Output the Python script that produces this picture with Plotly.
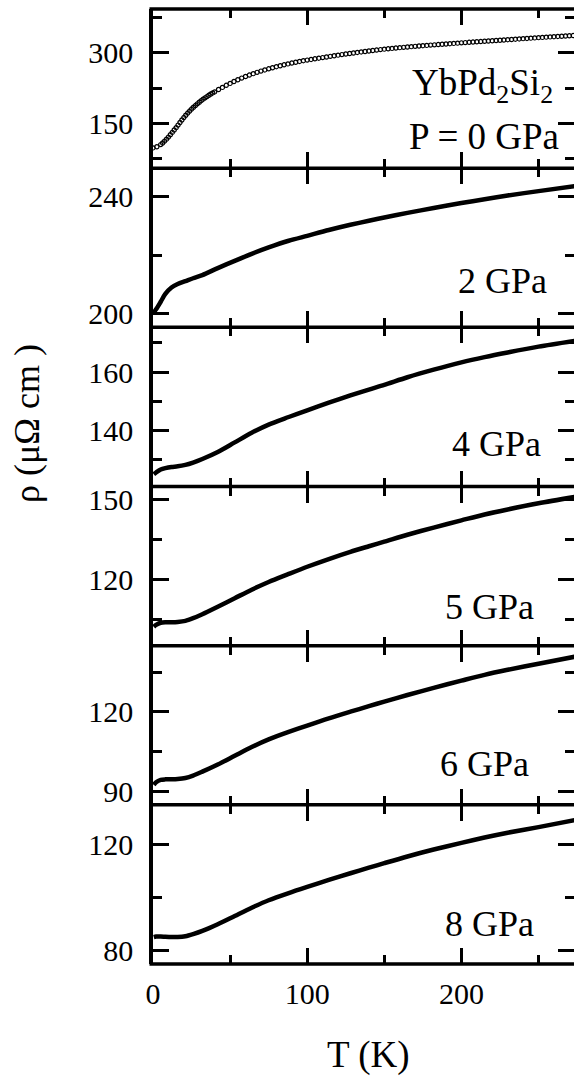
import plotly.graph_objects as go
from plotly.subplots import make_subplots

# ---------------- data ----------------
# P = 0 GPa (open circles)
T0 = [0, 2.5, 5, 6.25, 7.5, 8.75, 10, 11.25, 12.5, 13.75, 15, 16.25, 17.5, 18.75, 20,
      21.25, 22.5, 23.75, 25, 26.25, 27.5, 28.75, 30, 31.25, 32.5, 33.75, 35, 36.25,
      37.5, 38.75, 40, 42.5, 45, 47.5, 50, 52.5, 55, 57.5, 60, 62.5, 65, 67.5, 70,
      72.5, 75, 77.5, 80, 82.5, 85, 87.5, 90, 92.5, 95, 97.5, 100, 102.5, 105, 107.5,
      110, 112.5, 115, 117.5, 120, 122.5, 125, 127.5, 130, 132.5, 135, 137.5, 140,
      142.5, 145, 147.5, 150, 152.5, 155, 157.5, 160, 162.5, 165, 167.5, 170,
      172.5, 175, 177.5, 180, 182.5, 185, 187.5, 190, 192.5, 195, 197.5, 200,
      202.5, 205, 207.5, 210, 212.5, 215, 217.5, 220, 222.5, 225, 227.5, 230,
      232.5, 235, 237.5, 240, 242.5, 245, 247.5, 250, 252.5, 255, 257.5, 260,
      262.5, 265, 267.5, 270, 272.5, 275]
rho_0GPa = [98, 100.5, 105, 108.5, 112.5, 116.5, 121, 126, 131, 136, 141, 146.5, 152,
            157.3, 162.5, 167.3, 172, 176.3, 180.5, 184.3, 188, 191.6, 195, 198.3,
            201.5, 204.3, 207, 209.8, 212.5, 214.8, 217, 222, 226.5, 231, 235, 239,
            242.8, 246.3, 249.6, 252.7, 255.7, 258.5, 261.1, 263.6, 266, 268.3, 270.5,
            272.5, 274.5, 276.4, 278.2, 279.9, 281.6, 283.2, 284.5, 285.9, 287.2,
            288.5, 289.8, 291.1, 292.4, 293.7, 295, 296.2, 297.4, 298.5, 299.6, 300.7,
            301.8, 302.8, 303.8, 304.8, 305.8, 306.8, 307.7, 308.5, 309.3, 310.1,
            310.9, 311.6, 312.3, 313, 313.7, 314.4, 315.1, 315.7, 316.3, 316.9, 317.5,
            318.1, 318.7, 319.3, 319.9, 320.5, 321.1, 321.7, 322.3, 322.8, 323.4,
            323.9, 324.5, 325, 325.6, 326.1, 326.7, 327.2, 327.8, 328.3, 328.9,
            329.4, 330, 330.5, 331.1, 331.6, 332.2, 332.7, 333.2, 333.7, 334.2,
            334.7, 335.2, 335.7, 336.2, 336.6, 337]

# P = 2 ... 8 GPa (solid curves)
T = [0.5, 2, 5, 8, 12, 16, 21, 26, 32, 42, 53, 64, 75, 88, 100, 114, 128, 140, 150,
     165, 182, 200, 215, 230, 250, 275]
rho_2GPa = [200.2, 201.3, 203.9, 206.6, 208.8, 210, 211, 212, 213.1, 215.5, 218.0,
            220.4, 222.6, 224.9, 226.6, 228.6, 230.4, 231.8, 232.9, 234.5, 236.2,
            237.9, 239.2, 240.5, 242.0, 243.8]
rho_4GPa = [125, 125.6, 126.6, 127.1, 127.5, 127.7, 128.2, 129, 130.2, 132.6, 135.9,
            139.2, 142, 144.6, 146.9, 149.5, 152, 154, 155.6, 158.2, 160.8, 163.3,
            165.1, 166.7, 168.7, 170.8]
rho_5GPa = [102.3, 103, 103.8, 104, 104, 104.1, 104.5, 105.5, 107, 109.8, 113, 116.2,
            119.1, 122.1, 124.8, 127.7, 130.4, 132.5, 134.2, 136.8, 139.5, 142.2,
            144.4, 146.3, 148.6, 151.1]
rho_6GPa = [92.5, 93.5, 94.4, 94.6, 94.6, 94.7, 95.1, 96, 97.5, 100.2, 103.5, 106.8,
            109.7, 112.5, 114.9, 117.6, 120.1, 122.2, 123.9, 126.4, 129.1, 131.8,
            134, 135.9, 138.2, 141]
rho_8GPa = [85.2, 85.4, 85.4, 85.3, 85.2, 85.2, 85.5, 86.3, 87.5, 90, 93.1, 96.2,
            99, 101.7, 104, 106.6, 109.1, 111.2, 112.9, 115.4, 118, 120.5, 122.5,
            124.3, 126.4, 129.2]

pressure_labels = ["2 GPa", "4 GPa", "5 GPa", "6 GPa", "8 GPa"]
curves = [rho_2GPa, rho_4GPa, rho_5GPa, rho_6GPa, rho_8GPa]

# ---------------- figure ----------------
W, H = 574, 1077
ML, MR, MT, MB = 153, 0, 9, 113
PW, PH = W - ML - MR, H - MT - MB
LW = 3.5

FONT = "Liberation Serif, 'Times New Roman', Times, serif"

fig = make_subplots(rows=6, cols=1, shared_xaxes=True, vertical_spacing=0)

fig.add_trace(go.Scatter(x=T0, y=rho_0GPa, mode="markers",
                         marker=dict(symbol="circle-open", size=4.2, color="#000000",
                                     line=dict(width=1.2, color="#000000")),
                         showlegend=False), row=1, col=1)

for i, rho in enumerate(curves):
    fig.add_trace(go.Scatter(x=T, y=rho, mode="lines",
                             line=dict(color="black", width=4.5, shape="spline", smoothing=0.8),
                             showlegend=False), row=i + 2, col=1)

y_specs = [
    dict(range=[55, 393], dtick=150, minor_dtick=75),
    dict(range=[195.1, 249.9], dtick=40, minor_dtick=20),
    dict(range=[120.8, 175.3], dtick=20, minor_dtick=10),
    dict(range=[95.2, 154.9], dtick=30, minor_dtick=15),
    dict(range=[85, 145], dtick=30, minor_dtick=15),
    dict(range=[75.1, 134.75], dtick=40, minor_dtick=20),
]

tick_common = dict(mirror="ticks", ticks="inside", ticklen=16, tickwidth=2.5,
                   tickcolor="black", showgrid=False, zeroline=False,
                   tickfont=dict(family=FONT, size=30, color="black"))

for r in range(1, 7):
    ys = y_specs[r - 1]
    fig.update_yaxes(range=ys["range"], tick0=0, dtick=ys["dtick"],
                     showline=True, linewidth=LW, linecolor="black",
                     minor=dict(ticks="inside", ticklen=9, tickwidth=2.5, tickcolor="black",
                                dtick=ys["minor_dtick"], tick0=0, showgrid=False),
                     ticklabelstandoff=10, row=r, col=1, **tick_common)
    fig.update_xaxes(range=[0, 273], tick0=0, dtick=100, showline=False,
                     minor=dict(ticks="inside", ticklen=9, tickwidth=2.5, tickcolor="black",
                                dtick=50, tick0=0, showgrid=False),
                     showticklabels=(r == 6), ticklabelstandoff=9,
                     row=r, col=1, **tick_common)

# panel frame lines (top/bottom of every panel)
shapes = []
for k in range(7):
    shapes.append(dict(type="line", xref="paper", yref="paper", layer="above",
                       x0=-LW / PW, x1=1.02, y0=k / 6, y1=k / 6,
                       line=dict(color="black", width=LW)))


def px_x(p):
    return (p - ML) / PW


def px_y(p):
    return (MT + PH - p) / PH


annotations = []
ann_font = dict(family=FONT, size=37, color="black")
annotations.append(dict(text="YbPd<sub>2</sub>Si<sub>2</sub>", xref="paper", yref="paper",
                        x=px_x(555), y=px_y(86), xanchor="right", yanchor="middle",
                        showarrow=False, font=ann_font))
annotations.append(dict(text="P = 0 GPa", xref="paper", yref="paper",
                        x=px_x(561), y=px_y(136), xanchor="right", yanchor="middle",
                        showarrow=False, font=ann_font))
label_pos = [(549, 281), (543, 444), (536, 607), (531, 764), (536, 924)]
for lab, (lx, ly) in zip(pressure_labels, label_pos):
    annotations.append(dict(text=lab, xref="paper", yref="paper", x=px_x(lx), y=px_y(ly),
                            xanchor="right", yanchor="middle", showarrow=False,
                            font=dict(family=FONT, size=36, color="black")))
annotations.append(dict(text="T (K)", xref="paper", yref="paper", x=px_x(368.5), y=px_y(1055),
                        xanchor="center", yanchor="middle", showarrow=False,
                        font=dict(family=FONT, size=37, color="black")))
annotations.append(dict(text="ρ (μΩ cm )", xref="paper", yref="paper", x=px_x(27), y=px_y(424),
                        xanchor="center", yanchor="middle", textangle=-90, showarrow=False,
                        font=dict(family=FONT, size=36, color="black")))

fig.update_layout(width=W, height=H, margin=dict(l=ML, r=MR, t=MT, b=MB, autoexpand=False),
                  plot_bgcolor="white", paper_bgcolor="white", annotations=annotations,
                  shapes=shapes, showlegend=False)

fig.write_html("out.html", config={"displayModeBar": False},
               post_script="document.body.style.margin='0px';"
                           "document.body.style.overflow='hidden';")
